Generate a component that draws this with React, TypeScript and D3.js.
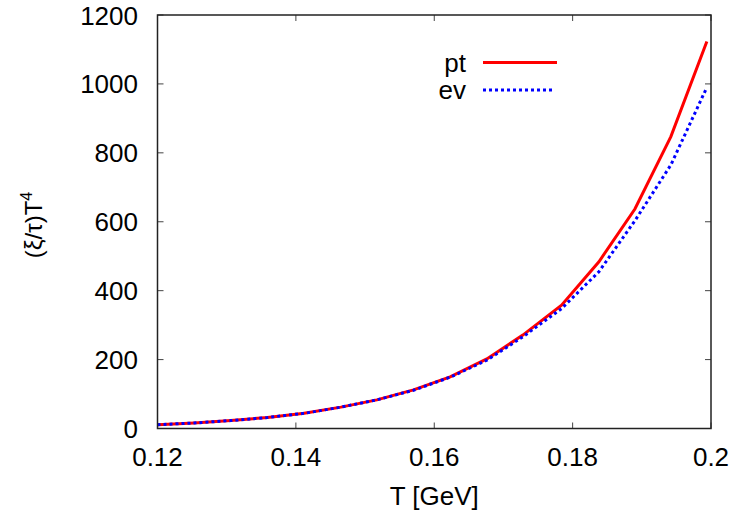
import React from "react";
import * as d3 from "d3";

const temps = [0.12, 0.1253, 0.1306, 0.1359, 0.1412, 0.1465, 0.1517, 0.157, 0.1623, 0.1676, 0.1728, 0.1784, 0.1838, 0.189, 0.1942, 0.1994];
const ptValues = [11, 16, 23, 32, 44, 62, 83, 112, 150, 202, 271, 358, 484, 637, 847, 1123];
const evValues = [11, 16, 23, 32, 44, 62, 83, 111, 149, 198, 266, 348, 455, 603, 765, 990];
const xTicks = [0.12, 0.14, 0.16, 0.18, 0.2];
const yTicks = [0, 200, 400, 600, 800, 1000, 1200];

const W = 736, H = 518;
const left = 157.5, right = 711, top = 15, bottom = 428.5;
const FONT = "'Liberation Sans', Arial, Helvetica, sans-serif";

export default function App() {
  const x = d3.scaleLinear().domain([0.12, 0.2]).range([left, right]);
  const y = d3.scaleLinear().domain([0, 1200]).range([bottom, top]);
  const line = d3.line<number>().x((_, i) => x(temps[i])).y((d) => y(d));
  const tickLen = 6;
  return (
    <svg width={W} height={H} style={{ position: "absolute", left: 0, top: 0 }} fontFamily={FONT}>
      <rect width={W} height={H} fill="#fff" />
      {xTicks.map((t) => (
        <g key={"x" + t}>
          <line x1={x(t)} x2={x(t)} y1={bottom} y2={bottom - tickLen} stroke="#444" strokeWidth={1} />
          <line x1={x(t)} x2={x(t)} y1={top} y2={top + tickLen} stroke="#444" strokeWidth={1} />
          <text x={x(t)} y={466} fontSize={26} textAnchor="middle" fill="#000">{t === 0.2 ? "0.2" : t.toFixed(2)}</text>
        </g>
      ))}
      {yTicks.map((t) => (
        <g key={"y" + t}>
          <line x1={left} x2={left + tickLen} y1={y(t)} y2={y(t)} stroke="#444" strokeWidth={1} />
          <line x1={right} x2={right - tickLen} y1={y(t)} y2={y(t)} stroke="#444" strokeWidth={1} />
          <text x={138} y={y(t) + 9.5} fontSize={26} textAnchor="end" fill="#000">{t}</text>
        </g>
      ))}
      <path d={line(ptValues) || ""} fill="none" stroke="#ff0000" strokeWidth={3} />
      <path d={line(evValues) || ""} fill="none" stroke="#0000ff" strokeWidth={3} strokeDasharray="3,3" />
      <rect x={left} y={top} width={right - left} height={bottom - top} fill="none" stroke="#222" strokeWidth={1.5} />
      <text x={466} y={72} fontSize={26} textAnchor="end">pt</text>
      <line x1={483} x2={557} y1={62.5} y2={62.5} stroke="#ff0000" strokeWidth={3} />
      <text x={466} y={99} fontSize={26} textAnchor="end">ev</text>
      <line x1={483} x2={555} y1={90} y2={90} stroke="#0000ff" strokeWidth={3} strokeDasharray="3,3" />
      <text x={(left + right) / 2} y={505} fontSize={26} textAnchor="middle">T [GeV]</text>
      <text transform={`translate(42,225) rotate(-90)`} fontSize={24} textAnchor="middle">
        (ξ/τ)T<tspan fontSize={16} dy={-10}>4</tspan>
      </text>
    </svg>
  );
}
